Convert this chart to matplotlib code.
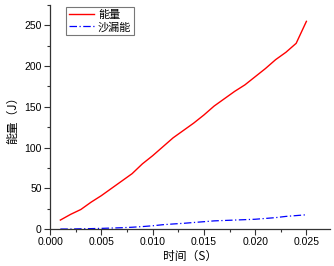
import matplotlib
matplotlib.use('Agg')
import matplotlib.pyplot as plt
from matplotlib.ticker import MultipleLocator
import numpy as np

plt.rcParams['font.family'] = ['Liberation Sans', 'Noto Sans CJK SC', 'DejaVu Sans']

# time (s)
t = [0.001, 0.002, 0.003, 0.004, 0.005, 0.006, 0.007, 0.008, 0.009, 0.010,
     0.011, 0.012, 0.013, 0.014, 0.015, 0.016, 0.017, 0.018, 0.019, 0.020,
     0.021, 0.022, 0.023, 0.024, 0.025]
# energy (J)
energy = [11, 18, 24, 33, 41, 50, 59, 68, 80, 90,
          101, 112, 121, 130, 140, 151, 160, 169, 177, 187,
          197, 208, 217, 228, 255]
# sand leakage energy (J)
leak = [0.0, 0.0, 0.3, 0.5, 0.8, 1.2, 1.6, 2.2, 3.0, 4.0,
        5.3, 6.2, 7.0, 8.0, 9.0, 10.0, 10.5, 11.0, 11.5, 12.0,
        13.0, 14.0, 15.5, 16.5, 17.5]

fig = plt.figure(figsize=(3.34, 2.66), dpi=100)
ax = fig.add_axes([0.150, 0.139, 0.838, 0.842])

ax.plot(t, energy, color='red', lw=1.0, label='能量')
ax.plot(t, leak, color='blue', lw=0.9, ls=(0, (6, 2, 1, 2)), label='沙漏能')

ax.set_xlim(0.0, 0.0273)
ax.set_ylim(0, 275)
ax.xaxis.set_major_locator(MultipleLocator(0.005))
ax.xaxis.set_minor_locator(MultipleLocator(0.0025))
ax.yaxis.set_major_locator(MultipleLocator(50))
ax.yaxis.set_minor_locator(MultipleLocator(25))
ax.xaxis.set_major_formatter(matplotlib.ticker.FormatStrFormatter('%.3f'))

for s in ['top', 'right']:
    ax.spines[s].set_visible(False)
for s in ['left', 'bottom']:
    ax.spines[s].set_color('#333333')
    ax.spines[s].set_linewidth(0.9)

ax.tick_params(which='major', direction='out', length=4, width=0.8,
               labelsize=7.5, color='#333333', pad=2)
ax.tick_params(which='minor', direction='out', length=2.5, width=0.8,
               color='#333333')

ax.set_xlabel('时间（S）', fontsize=8.5, family=['Noto Sans CJK SC'], labelpad=2)
ax.set_ylabel('能量（J）', fontsize=8.5, family=['Noto Sans CJK SC'], labelpad=4)

leg = ax.legend(loc='upper left', bbox_to_anchor=(0.05, 1.0),
                prop={'family': ['Noto Sans CJK SC'], 'size': 8},
                frameon=True, fancybox=False, handlelength=2.3,
                borderpad=0.2, labelspacing=0.2, handletextpad=0.35,
                borderaxespad=0.2)
leg.get_frame().set_edgecolor('#555555')
leg.get_frame().set_linewidth(0.8)

fig.savefig('out.png', dpi=100)
